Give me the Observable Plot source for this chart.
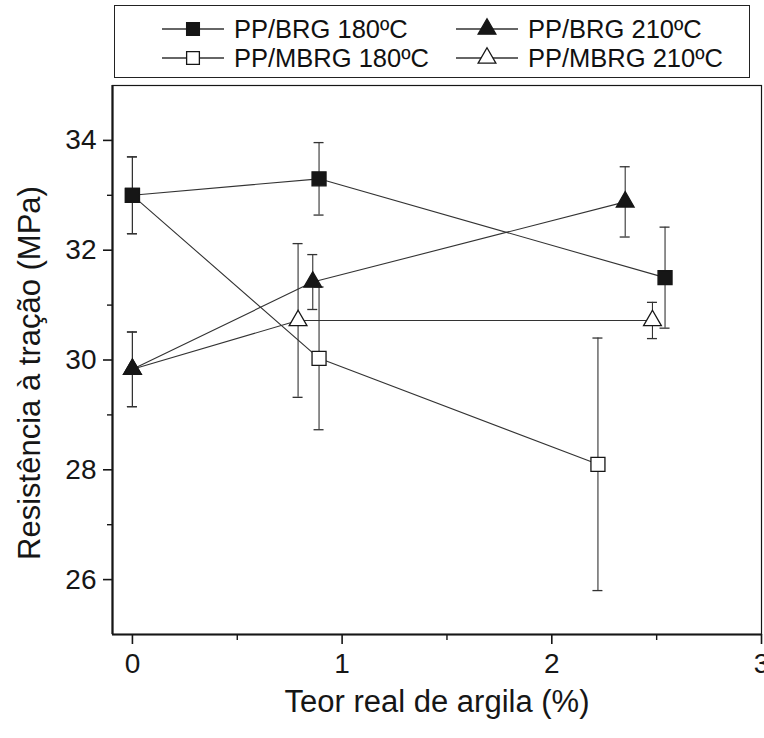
<!DOCTYPE html>
<html>
<head>
<meta charset="utf-8">
<script src="https://cdn.jsdelivr.net/npm/d3@7"></script>
<script src="https://cdn.jsdelivr.net/npm/@observablehq/plot@0.6"></script>
<style>
  body { margin: 0; background: #fff; font-family: "Liberation Sans", Arial, sans-serif; }
  #legend { position: relative; width: 764px; height: 82px; }
  #legend .box { position: absolute; left: 114px; top: 5px; width: 634px; height: 71px; border: 1.5px solid #222; }
  #legend .item { position: absolute; display: flex; align-items: center; height: 30px; font-size: 25.5px; color: #111; white-space: nowrap; }
  #legend .item svg { display: block; margin-right: 10px; }
  #chart svg { display: block; }
</style>
</head>
<body>
<div id="legend"><div class="box"></div></div>
<div id="chart"></div>
<script>
// Series: tensile strength (MPa) versus actual clay content (%)
const seriesNames = ["PP/BRG 180ºC", "PP/BRG 210ºC", "PP/MBRG 180ºC", "PP/MBRG 210ºC"];
const seriesSymbols = ["square", "triangle", "square", "triangle"];
const seriesFilled = [true, true, false, false];

const teorBRG180 = [0, 0.89, 2.54];
const resBRG180 = [33.0, 33.3, 31.5];
const errBRG180 = [0.7, 0.66, 0.92];

const teorBRG210 = [0, 0.86, 2.35];
const resBRG210 = [29.83, 31.42, 32.88];
const errBRG210 = [0.68, 0.5, 0.64];

const teorMBRG180 = [0, 0.89, 2.22];
const resMBRG180 = [33.0, 30.03, 28.1];
const errMBRG180 = [0.7, 1.3, 2.3];

const teorMBRG210 = [0, 0.79, 2.48];
const resMBRG210 = [29.83, 30.72, 30.72];
const errMBRG210 = [0.68, 1.4, 0.33];

const xTicks = [0, 1, 2, 3];
const xMinorTicks = [0.5, 1.5, 2.5];
const yTicks = [26, 28, 30, 32, 34];
const yMinorTicks = [27, 29, 31, 33];

const xLabel = "Teor real de argila (%)";
const yLabel = "Resistência à tração (MPa)";

const seriesX = [teorBRG180, teorBRG210, teorMBRG180, teorMBRG210];
const seriesY = [resBRG180, resBRG210, resMBRG180, resMBRG210];
const seriesErr = [errBRG180, errBRG210, errMBRG180, errMBRG210];

const rows = seriesNames.flatMap((name, i) =>
  seriesX[i].map((x, j) => ({
    series: name,
    filled: seriesFilled[i],
    symbol: seriesSymbols[i],
    x,
    y: seriesY[i][j],
    lo: seriesY[i][j] - seriesErr[i][j],
    hi: seriesY[i][j] + seriesErr[i][j]
  }))
);

const ink = "#161616";
const xMin = -0.095;

const dotsFor = (filled, symbol) =>
  Plot.dot(rows.filter(d => d.filled === filled && d.symbol === symbol), {
    x: "x", y: "y", symbol,
    r: symbol === "square" ? 7.9 : 6.6,
    fill: filled ? ink : "#fff",
    stroke: ink, strokeWidth: 1.3
  });

const chart = Plot.plot({
  width: 764,
  height: 656,
  marginTop: 3,
  marginBottom: 104,
  marginLeft: 112,
  marginRight: 3,
  x: { domain: [xMin, 3] },
  y: { domain: [25, 35] },
  style: { fontFamily: "Liberation Sans, Arial, sans-serif", color: ink, background: "#fff", overflow: "visible" },
  marks: [
    Plot.frame({ stroke: ink, strokeWidth: 1.2 }),
    Plot.ruleX([xMin], { stroke: ink, strokeWidth: 2.2 }),
    Plot.ruleY([25], { stroke: ink, strokeWidth: 2.2 }),
    Plot.line(rows, { x: "x", y: "y", z: "series", stroke: "#333", strokeWidth: 1.1 }),
    Plot.ruleX(rows, { x: "x", y1: "lo", y2: "hi", stroke: "#333", strokeWidth: 1.1 }),
    Plot.ruleY(rows, { y: "lo", x1: "x", x2: "x", insetLeft: -5, insetRight: -5, stroke: "#333", strokeWidth: 1.3 }),
    Plot.ruleY(rows, { y: "hi", x1: "x", x2: "x", insetLeft: -5, insetRight: -5, stroke: "#333", strokeWidth: 1.3 }),
    dotsFor(false, "square"),
    dotsFor(false, "triangle"),
    dotsFor(true, "square"),
    dotsFor(true, "triangle"),
    Plot.axisX({ ticks: xTicks, tickSize: 10, tickPadding: 9, fontSize: 28, strokeWidth: 1.6, label: null, tickFormat: d => String(d) }),
    Plot.axisX({ ticks: xMinorTicks, tickSize: 6, strokeWidth: 1.4, label: null, tickFormat: () => "" }),
    Plot.axisY({ ticks: yTicks, tickSize: 9, tickPadding: 7, fontSize: 28, strokeWidth: 1.6, label: null, tickFormat: d => String(d) }),
    Plot.axisY({ ticks: yMinorTicks, tickSize: 5, strokeWidth: 1.4, label: null, tickFormat: () => "" }),
    Plot.text([yLabel], { text: d => d, frameAnchor: "left", dx: -82, dy: 13, rotate: -90, textAnchor: "middle", lineAnchor: "middle", fontSize: 31, fill: ink }),
    Plot.text([xLabel], { text: d => d, frameAnchor: "bottom", dy: 68, textAnchor: "middle", lineAnchor: "middle", fontSize: 31, fill: ink })
  ]
});
document.getElementById("chart").appendChild(chart);

// Legend: line-and-symbol swatches in a boxed two-column layout
const legend = d3.select("#legend");
const legendPos = [
  { left: 162, top: 14 }, { left: 456, top: 14 },
  { left: 162, top: 43 }, { left: 456, top: 43 }
];
seriesNames.forEach((name, i) => {
  const item = legend.append("div").attr("class", "item")
    .style("left", legendPos[i].left + "px").style("top", legendPos[i].top + "px");
  const sw = item.append("svg").attr("width", 62).attr("height", 24);
  sw.append("line").attr("x1", 0).attr("x2", 62).attr("y1", 12).attr("y2", 12)
    .attr("stroke", "#333").attr("stroke-width", 1.3);
  const isSquare = seriesSymbols[i] === "square";
  const r = isSquare ? 7.2 : 6.6;
  sw.append("path")
    .attr("transform", "translate(31,12)")
    .attr("d", d3.symbol(isSquare ? d3.symbolSquare : d3.symbolTriangle, Math.PI * r * r)())
    .attr("fill", seriesFilled[i] ? ink : "#fff")
    .attr("stroke", ink).attr("stroke-width", 1.3);
  item.append("span").text(name);
});
</script>
</body>
</html>
